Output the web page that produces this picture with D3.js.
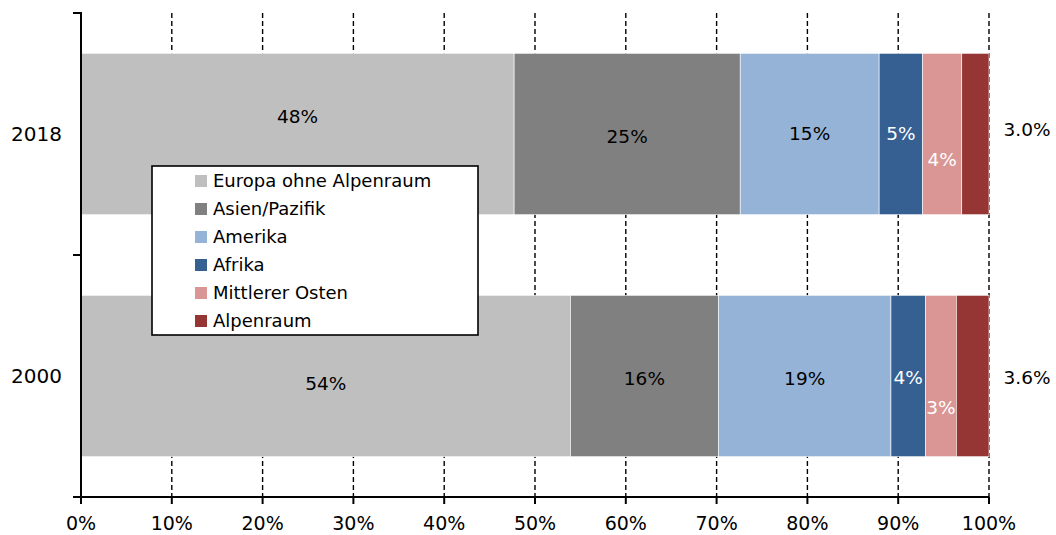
<!DOCTYPE html>
<html lang="de">
<head>
    <meta charset="UTF-8">
    <title>Anteile nach Herkunftsregion</title>
    <script src="https://cdn.jsdelivr.net/npm/d3@7"></script>
    <style>
        body {
            margin: 0;
            background: #fff;
            font-family: 'DejaVu Sans', sans-serif;
        }
        .grid line {
            stroke: #000;
            stroke-width: 1.4px;
            stroke-dasharray: 5 3;
        }
        .axis-line {
            stroke: #000;
            stroke-width: 2px;
        }
    </style>
</head>
<body>
    <div id="chart"></div>
    <script>
        // data (Anteile in %)
        const years = ['2018', '2000'];
        const regions = ['Europa ohne Alpenraum', 'Asien/Pazifik', 'Amerika', 'Afrika', 'Mittlerer Osten', 'Alpenraum'];
        const share2018 = [47.7, 24.9, 15.3, 4.8, 4.3, 3.0];
        const share2000 = [53.9, 16.3, 19.0, 3.8, 3.4, 3.6];
        const xTicks = [0, 10, 20, 30, 40, 50, 60, 70, 80, 90, 100];

        const colors = ['#bfbfbf', '#808080', '#95b3d7', '#366092', '#da9694', '#963634'];
        const labelColors = ['#000', '#000', '#000', '#fff', '#fff', '#000'];

        const width = 1056, height = 535;
        const margin = { top: 13, right: 67, bottom: 38, left: 81 };

        const svg = d3.select('#chart')
            .append('svg')
            .attr('width', width)
            .attr('height', height);

        const x = d3.scaleLinear()
            .domain([0, 100])
            .range([margin.left, width - margin.right]);

        const y = d3.scaleBand()
            .domain(years)
            .range([margin.top, height - margin.bottom]);

        const barH = y.bandwidth() * 0.667;

        // stacked rows
        const rows = years.map((yr, i) => {
            const vals = i === 0 ? share2018 : share2000;
            let acc = 0;
            return vals.map((v, j) => {
                const seg = { year: yr, idx: j, value: v, x0: acc, x1: acc + v };
                acc += v;
                return seg;
            });
        });
        const segs = rows.flat();

        // gridlines (dashed, behind the bars)
        svg.append('g')
            .attr('class', 'grid')
            .selectAll('line')
            .data(xTicks.slice(1))
            .enter()
            .append('line')
            .attr('x1', d => x(d))
            .attr('x2', d => x(d))
            .attr('y1', margin.top)
            .attr('y2', height - margin.bottom);

        // bars
        svg.append('g')
            .selectAll('rect')
            .data(segs)
            .enter()
            .append('rect')
            .attr('x', d => x(d.x0))
            .attr('width', d => x(d.x1) - x(d.x0))
            .attr('y', d => y(d.year) + (y.bandwidth() - barH) / 2)
            .attr('height', barH)
            .attr('fill', d => colors[d.idx])
            .attr('stroke', '#fff')
            .attr('stroke-width', 0.6);

        // label placement tweaks (as in the original layout)
        const nudge = {
            '2018-0': -17, '2018-1': 3, '2018-4': 26, '2018-5': -4,
            '2000-0': 8, '2000-1': 3, '2000-2': 3, '2000-3': 2, '2000-4': 32, '2000-5': 2
        };
        const fmt0 = d3.format('.0f');
        const fmt1 = d3.format('.1f');

        svg.append('g')
            .selectAll('text')
            .data(segs)
            .enter()
            .append('text')
            .attr('x', d => d.idx === 5 ? x(100) + 38 : (x(d.x0) + x(d.x1)) / 2)
            .attr('y', d => y(d.year) + y.bandwidth() / 2 + (nudge[d.year + '-' + d.idx] || 0))
            .attr('dy', '0.35em')
            .attr('text-anchor', 'middle')
            .attr('font-size', '18.5px')
            .attr('fill', d => labelColors[d.idx])
            .text(d => d.idx === 5 ? fmt1(d.value) + '%' : fmt0(d.value) + '%');

        // x axis
        const xAxis = svg.append('g')
            .attr('transform', `translate(0,${height - margin.bottom})`);
        xAxis.append('line')
            .attr('class', 'axis-line')
            .attr('x1', margin.left - 8)
            .attr('x2', x(100))
            .attr('y1', 0)
            .attr('y2', 0);
        xAxis.selectAll('.tick')
            .data(xTicks)
            .enter()
            .append('line')
            .attr('class', 'axis-line')
            .attr('x1', d => x(d))
            .attr('x2', d => x(d))
            .attr('y1', 0)
            .attr('y2', 7);
        xAxis.selectAll('text')
            .data(xTicks)
            .enter()
            .append('text')
            .attr('x', d => x(d))
            .attr('y', 26)
            .attr('dy', '0.35em')
            .attr('text-anchor', 'middle')
            .attr('font-size', '19px')
            .text(d => d + '%');

        // y axis
        const yAxis = svg.append('g');
        yAxis.append('line')
            .attr('class', 'axis-line')
            .attr('x1', margin.left)
            .attr('x2', margin.left)
            .attr('y1', margin.top - 1)
            .attr('y2', height - margin.bottom);
        const yTickPos = years.map(d => y(d)).concat([y(years[years.length - 1]) + y.bandwidth()]);
        yAxis.selectAll('.tick')
            .data(yTickPos)
            .enter()
            .append('line')
            .attr('class', 'axis-line')
            .attr('x1', margin.left - 8)
            .attr('x2', margin.left)
            .attr('y1', d => d)
            .attr('y2', d => d);
        yAxis.selectAll('text')
            .data(years)
            .enter()
            .append('text')
            .attr('x', 62)
            .attr('y', d => y(d) + y.bandwidth() / 2)
            .attr('dy', '0.35em')
            .attr('text-anchor', 'end')
            .attr('font-size', '20px')
            .text(d => d);

        // legend
        const legend = svg.append('g')
            .attr('transform', 'translate(152,166)');
        legend.append('rect')
            .attr('width', 326)
            .attr('height', 169)
            .attr('fill', '#fff')
            .attr('stroke', '#000')
            .attr('stroke-width', 1.6);
        const item = legend.selectAll('.item')
            .data(regions)
            .enter()
            .append('g')
            .attr('transform', (d, i) => `translate(43,${15 + i * 28})`);
        item.append('rect')
            .attr('x', 0)
            .attr('y', -6)
            .attr('width', 12)
            .attr('height', 12)
            .attr('fill', (d, i) => colors[i]);
        item.append('text')
            .attr('x', 18)
            .attr('y', 0)
            .attr('dy', '0.35em')
            .attr('font-size', '18px')
            .text(d => d);
    </script>
</body>
</html>
